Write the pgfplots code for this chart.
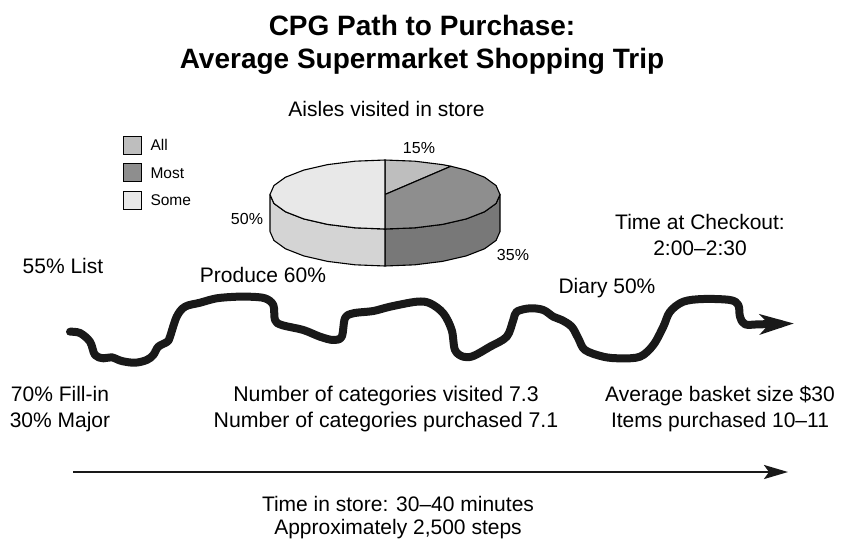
\documentclass[border=0pt]{standalone}
\usepackage{pgfplots}
\pgfplotsset{compat=1.18}
\usepackage{fontspec}
\setmainfont{Liberation Sans}
\usetikzlibrary{arrows.meta}
\definecolor{cAll}{RGB}{190,190,190}
\definecolor{cMost}{RGB}{142,142,142}
\definecolor{cMostSide}{RGB}{120,120,120}
\definecolor{cSome}{RGB}{232,232,232}
\definecolor{cSomeSide}{RGB}{212,212,212}
\definecolor{txt}{RGB}{30,30,30}
\begin{document}
\begin{tikzpicture}
\begin{axis}[
  width=853pt, height=539pt, scale only axis,
  xmin=0, xmax=853, ymin=0, ymax=539, y dir=reverse,
  hide axis, clip=false,
  every node/.append style={text=txt, inner sep=0pt},
]
% ---- pie sides ----
\addplot [fill=cMostSide, draw=black, line width=1.1pt, line join=round] coordinates {
 (500,194.5) (496.08,203.43) (484.59,211.75) (466.32,218.89) (442.5,224.38) (414.76,227.82) (385,229)
 (385,266) (414.76,264.82) (442.5,261.38) (466.32,255.89) (484.59,248.75) (496.08,240.43) (500,231.5)} -- cycle;
\addplot [fill=cSomeSide, draw=black, line width=1.1pt, line join=round] coordinates {
 (385,229) (355.24,227.82) (327.5,224.38) (303.68,218.89) (285.41,211.75) (273.92,203.43) (270,194.5)
 (270,231.5) (273.92,240.43) (285.41,248.75) (303.68,255.89) (327.5,261.38) (355.24,264.82) (385,266)} -- cycle;
% ---- pie top ----
\addplot [fill=cAll, draw=black, line width=1.1pt, line join=round] coordinates {
 (385,194.5) (385,160) (414.76,161.18) (442.5,164.62) (450.96,166.24)} -- cycle;
\addplot [fill=cMost, draw=black, line width=1.1pt, line join=round] coordinates {
 (385,194.5) (450.96,166.24) (466.32,170.11) (484.59,177.25) (496.08,185.57) (500,194.5)
 (496.08,203.43) (484.59,211.75) (466.32,218.89) (442.5,224.38) (414.76,227.82) (385,229)} -- cycle;
\addplot [fill=cSome, draw=black, line width=1.1pt, line join=round] coordinates {
 (385,194.5) (385,229) (355.24,227.82) (327.5,224.38) (303.68,218.89) (285.41,211.75) (273.92,203.43) (270,194.5)
 (273.92,185.57) (285.41,177.25) (303.68,170.11) (327.5,164.62) (355.24,161.18) (385,160)} -- cycle;
% ---- legend boxes ----
\addplot [fill=cAll, draw=black, line width=0.9pt] coordinates {(123,136) (141,136) (141,154) (123,154)} -- cycle;
\addplot [fill=cMost, draw=black, line width=0.9pt] coordinates {(123,163.5) (141,163.5) (141,181.5) (123,181.5)} -- cycle;
\addplot [fill=cSome, draw=black, line width=0.9pt] coordinates {(123,191) (141,191) (141,209) (123,209)} -- cycle;
% ---- wavy path ----
\addplot [line width=8pt, color=black!90, smooth, tension=0.55, line cap=round, line join=round,
  -{Stealth[length=34pt, width=20pt, inset=9pt]}] coordinates {
 (70,331.7) (80,333) (90,341.7) (95,355) (103.3,358.3) (111.7,357.3) (121.7,361) (135,362.7)
 (146.7,360) (153.3,355) (158.3,346.7) (167.3,341.7) (170,336.7) (176.7,316.7) (185,306.7)
 (200,302.7) (216.7,298.3) (236.7,296.7) (250,296.7) (265,298.3) (273.3,305) (275,320)
 (281.7,325) (303.3,330) (320,336.7) (333.3,340) (341.7,336.7) (345,318.3) (353.3,313.3)
 (373.3,311) (390,306.7) (416.7,301.7) (430,303.3) (443.3,313.3) (451.7,330) (455,350)
 (463.3,356.7) (473.3,356) (490,346.7) (506.7,336.7) (513.3,320) (516.7,311.7) (530,308.3)
 (543.3,310) (553.3,316.7) (561.7,320) (571.7,326.7) (578.3,338.3) (585,350) (603.3,356.7)
 (620,358.3) (640,356.7) (653.3,345) (663.3,326.7) (670,311.7) (683.3,301.7) (703.3,299)
 (730,300) (738.3,305) (740,316.7) (745,324.3) (760,324.3) (794,323.5)};
% ---- time arrow ----
\addplot [line width=2.5pt, color=black!90, -{Stealth[length=24pt, width=14pt, inset=5pt]}] coordinates {(73,472) (788,472)};
% ---- texts ----
\node[anchor=base, font=\fontsize{28}{33}\selectfont\bfseries] at (422,35.5) {CPG Path to Purchase:};
\node[anchor=base, font=\fontsize{28}{33}\selectfont\bfseries] at (422,68) {Average Supermarket Shopping Trip};
\node[anchor=base, font=\fontsize{21}{26}\selectfont] at (386.5,116.5) {Aisles visited in store};
\node[anchor=base west, font=\fontsize{15.5}{19}\selectfont] at (147,150.5) {All};
\node[anchor=base west, font=\fontsize{15.5}{19}\selectfont] at (147,178) {Most};
\node[anchor=base west, font=\fontsize{15.5}{19}\selectfont] at (147,205.5) {Some};
\node[anchor=base, font=\fontsize{16}{19}\selectfont] at (419,153.5) {15\%};
\node[anchor=base, font=\fontsize{16}{19}\selectfont] at (247,224) {50\%};
\node[anchor=base, font=\fontsize{16}{19}\selectfont] at (513,260) {35\%};
\node[anchor=base, font=\fontsize{21}{26}\selectfont] at (700,229) {Time at Checkout:};
\node[anchor=base, font=\fontsize{21}{26}\selectfont] at (700,255) {2:00–2:30};
\node[anchor=base, font=\fontsize{21}{26}\selectfont] at (63,273) {55\% List};
\node[anchor=base, font=\fontsize{21}{26}\selectfont] at (263,282) {Produce 60\%};
\node[anchor=base, font=\fontsize{21}{26}\selectfont] at (607,293.5) {Diary 50\%};
\node[anchor=base, font=\fontsize{21}{26}\selectfont] at (60,401) {70\% Fill-in};
\node[anchor=base, font=\fontsize{21}{26}\selectfont] at (60,427) {30\% Major};
\node[anchor=base, font=\fontsize{21.3}{26}\selectfont] at (386,401) {Number of categories visited 7.3};
\node[anchor=base, font=\fontsize{21.3}{26}\selectfont] at (386,427) {Number of categories purchased 7.1};
\node[anchor=base, font=\fontsize{21}{26}\selectfont] at (720,401) {Average basket size \$30};
\node[anchor=base, font=\fontsize{21}{26}\selectfont] at (720,427) {Items purchased 10–11};
\node[anchor=base, font=\fontsize{21}{26}\selectfont] at (398,511) {Time in store: 30–40 minutes};
\node[anchor=base, font=\fontsize{21}{26}\selectfont] at (398,534.5) {Approximately 2,500 steps};
\end{axis}
\pgfresetboundingbox
\useasboundingbox (current axis.south west) rectangle (current axis.north east);
\end{tikzpicture}
\end{document}
